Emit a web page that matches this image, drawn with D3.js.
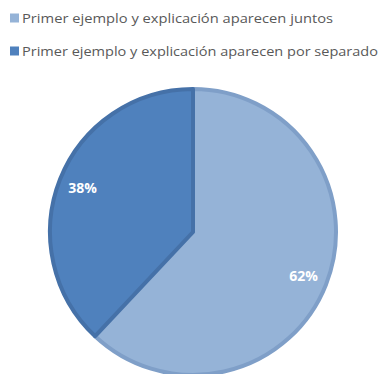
<!DOCTYPE html>
<html>
<head>
<meta charset="utf-8">
<script src="https://cdn.jsdelivr.net/npm/d3@7"></script>
<style>
  html, body { margin: 0; padding: 0; background: #ffffff; }
  svg { display: block; }
</style>
</head>
<body>
<svg id="chart" width="383" height="374"></svg>
<script>
// Survey split: when the first example and the explanation appear
const categories = [
  "Primer ejemplo y explicación aparecen juntos",
  "Primer ejemplo y explicación aparecen por separado"
];
const values = [62, 38];
const labels = ["62%", "38%"];
const fills = ["#95b3d7", "#4f81bd"];
const edges = ["#7f9fc8", "#4571a8"];

const svg = d3.select("#chart");
const cx = 193, cy = 232, R = 145;

// Legend
const legend = svg.append("g");
const legendRows = [
  { y: 18, len: 311 },
  { y: 51, len: 356 }
];
categories.forEach((c, i) => {
  const row = legend.append("g").attr("transform", `translate(10,${legendRows[i].y})`);
  row.append("rect")
    .attr("x", 0).attr("y", -4.5)
    .attr("width", 9).attr("height", 9)
    .attr("fill", fills[i]);
  row.append("text")
    .attr("x", 12).attr("y", 4.8)
    .attr("font-family", "'Open Sans', 'Liberation Sans', sans-serif")
    .attr("font-size", 13)
    .attr("fill", "#595959")
    .attr("textLength", legendRows[i].len)
    .attr("lengthAdjust", "spacingAndGlyphs")
    .text(c);
});

// Pie
const pie = d3.pie().sort(null).value(d => d)(values);
const arc = d3.arc().innerRadius(0).outerRadius(R - 2);
const labelArc = d3.arc().innerRadius(R * 0.82).outerRadius(R * 0.82);

const g = svg.append("g").attr("transform", `translate(${cx},${cy})`);

g.selectAll("path.slice")
  .data(pie)
  .join("path")
  .attr("class", "slice")
  .attr("d", arc)
  .attr("fill", (d, i) => fills[i])
  .attr("stroke", (d, i) => edges[i])
  .attr("stroke-width", 4)
  .attr("stroke-linejoin", "round");

g.selectAll("text.pct")
  .data(pie)
  .join("text")
  .attr("class", "pct")
  .attr("transform", d => `translate(${labelArc.centroid(d)})`)
  .attr("text-anchor", "middle")
  .attr("dy", "0.36em")
  .attr("font-family", "'Open Sans', 'Liberation Sans', sans-serif")
  .attr("font-weight", "bold")
  .attr("font-size", 14)
  .attr("fill", "#ffffff")
  .text((d, i) => labels[i]);
</script>
</body>
</html>
